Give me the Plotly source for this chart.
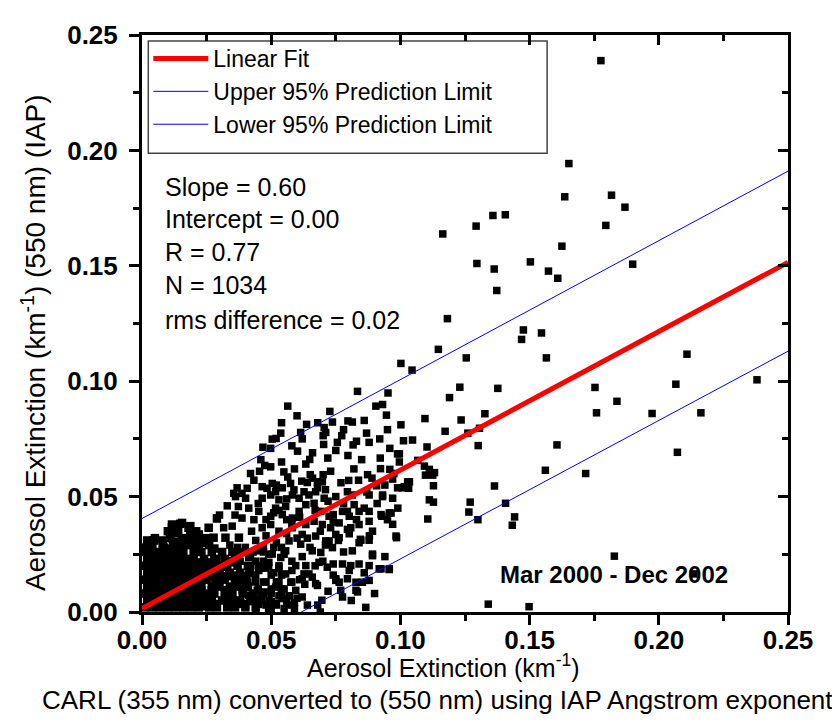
import plotly.graph_objects as go

# ---------------- data ----------------
# sparse / outlying points: CARL extinction (x) and IAP extinction (y), km^-1
sparse_x = [0.1776,0.1652,0.1636,0.1358,0.1406,0.1293,0.1164,0.1817,0.1869,0.1795,
            0.1625,0.1296,0.1363,0.1503,0.1573,0.1609,0.1373,0.1182,0.1476,0.1546,
            0.1469,0.1147,0.1255,0.1565,0.1002,0.1045,0.1230,0.1377,0.1190,0.1753,
            0.1095,0.1235,0.1327,0.1759,0.1899,0.2109,0.2066,0.2380,0.1838,0.1974,
            0.2163,0.1002,0.1173,0.1261,0.1306,0.1012,0.1047,0.1103,0.1301,0.1606,
            0.0996,0.1067,0.1093,0.1112,0.1132,0.1097,0.1125,0.1561,0.1717,0.1035,
            0.1009,0.1032,0.1128,0.1364,0.1112,0.1128,0.1270,0.1407,0.1265,0.1106,
            0.1300,0.1442,0.1433,0.1340,0.1498,0.0985,0.2072,0.1828,0.2134]
sparse_y = [0.2389,0.1943,0.1799,0.1718,0.1721,0.1672,0.1638,0.1806,0.1754,0.1675,
            0.1585,0.1510,0.1486,0.1517,0.1477,0.1446,0.1393,0.1271,0.1222,0.1209,
            0.1181,0.1138,0.1101,0.1101,0.1077,0.1048,0.0974,0.0969,0.0929,0.0973,
            0.0838,0.0832,0.0859,0.0863,0.1507,0.1117,0.0987,0.1006,0.0913,0.0860,
            0.0863,0.0811,0.0783,0.0775,0.0796,0.0742,0.0745,0.0715,0.0721,0.0724,
            0.0685,0.0657,0.0632,0.0618,0.0604,0.0593,0.0593,0.0614,0.0600,0.0564,
            0.0538,0.0536,0.0547,0.0546,0.0486,0.0476,0.0476,0.0471,0.0433,0.0403,
            0.0400,0.0412,0.0376,0.0034,0.0023,0.0322,0.0692,0.0242,0.0165]

# upper part of the main cluster (0.035 < x < 0.10, 0.05 < y < 0.10)
upper_x = [0.0834,0.0952,0.0564,0.0905,0.0931,0.0946,0.0727,0.0737,0.0797,0.0814,
           0.0637,0.0705,0.0537,0.0519,0.0614,0.0701,0.0711,0.0773,0.0869,0.0756,
           0.0879,0.0703,0.0817,0.0498,0.0959,0.0602,0.0797,0.0989,0.0719,0.0649,
           0.0922,0.0996,0.0634,0.0498,0.0923,0.0959,0.0549,0.0651,0.0701,0.0873,
           0.0975,0.0564,0.0618,0.0838,0.0679,0.0698,0.0575,0.0504,0.0640,0.0970,
           0.0989,0.0908,0.0543,0.0588,0.0679,0.0627,0.0517,0.0795,0.0672,0.0931,
           0.0468,0.0504,0.0475,0.0455,0.0433,0.0368,0.0407,0.0465,0.0484,0.0355,
           0.0387,0.1015,0.1028,
           0.0540,0.0590,0.0660,0.0730,0.0770,0.0820,0.0850,0.0890,0.0940,0.0580,
           0.0660,0.0750,0.0830,0.0920,0.0620,0.0680,0.0780,0.0860,0.0950,0.0540,
           0.0600,0.0460,0.0420,0.0520,0.0710,0.0870,0.0800]
upper_y = [0.0956,0.0949,0.0892,0.0892,0.0899,0.0853,0.0869,0.0823,0.0828,0.0823,
           0.0813,0.0799,0.0775,0.0752,0.0778,0.0764,0.0778,0.0764,0.0775,0.0735,
           0.0735,0.0726,0.0724,0.0709,0.0709,0.0697,0.0678,0.0685,0.0667,0.0661,
           0.0667,0.0650,0.0641,0.0629,0.0621,0.0618,0.0607,0.0595,0.0595,0.0595,
           0.0600,0.0585,0.0567,0.0571,0.0564,0.0564,0.0557,0.0557,0.0561,0.0576,
           0.0538,0.0547,0.0538,0.0529,0.0538,0.0521,0.0521,0.0521,0.0521,0.0507,
           0.0714,0.0749,0.0635,0.0610,0.0571,0.0538,0.0536,0.0543,0.0536,0.0514,
           0.0514,0.0543,0.0564,
           0.0650,0.0620,0.0580,0.0610,0.0560,0.0620,0.0660,0.0580,0.0550,0.0720,
           0.0690,0.0700,0.0740,0.0750,0.0750,0.0820,0.0790,0.0830,0.0790,0.0820,
           0.0850,0.0660,0.0600,0.0550,0.0530,0.0520,0.0570]

# lower-middle part of the cluster (0.03 < x < 0.10, 0 < y < 0.05)
middle_x = [0.0362,0.0401,0.0373,0.0413,0.0465,0.0498,0.0530,0.0517,0.0556,0.0582,
            0.0608,0.0646,0.0666,0.0634,0.0705,0.0750,0.0814,0.0879,0.0931,0.0970,
            0.0821,0.0776,0.0840,0.0879,0.0925,0.0964,0.0802,0.0724,0.0692,0.0608,
            0.0582,0.0543,0.0498,0.0452,0.0433,0.0387,0.0349,0.0290,0.0316,0.0258,
            0.0424,0.0465,0.0498,0.0530,0.0582,0.0634,0.0666,0.0698,0.0730,0.0763,
            0.0795,0.0840,0.0879,0.0892,0.0845,0.0802,0.0983,0.0750,0.0711,0.0672,
            0.0620,0.0569,0.0614,0.0659,0.0692,0.0737,0.0814,0.0892,0.0776,0.0808,
            0.0840,0.0879,0.0918,0.0957,0.0717,0.0685,0.0634,0.0595,0.0556,0.0627,
            0.0659,0.0679,0.0750,0.0763,0.0795,0.0828,0.0879,0.0769,0.0828,0.0776,
            0.0866,0.0620,0.0543,0.0595,0.0576,0.0517,0.0478,0.0446,0.0413,0.0452,
            0.0491,0.0517,0.0401,0.0375,0.0349,0.0401,0.0375,0.0336,0.0308,0.0413,
            0.0452,0.0491,0.0504,0.0537,0.0556,0.0452,0.0413,0.0375,0.0349,0.0290,
            0.0271,0.0245,0.0282,0.0232,0.0219,0.0180,0.0323,0.0282,0.0245,0.0957,
            0.0925,0.0696,0.0834,0.0853,0.0892,0.0957,0.0928,0.0879,0.0847,0.0808,
            0.0795,0.0740,0.0763,0.0724,0.0740,0.0802,0.0750,0.0672,0.0646,0.0620,
            0.0360,0.0440,0.0480,0.0520,0.0560,0.0400,0.0470,0.0340,0.0510,0.0560,
            0.0600,0.0350,0.0390,0.0430,0.0470,0.0450,0.0490,0.0530,0.0440,0.0480,
            0.0520,0.0470,0.0500,0.0540,0.0480,0.0520,0.0570,
            0.0500,0.0550,0.0590,0.0360,0.0430,0.0500,0.0560,0.0390,0.0450,0.0500,
            0.0550,0.0370,0.0440,0.0500,0.0540,0.0380,0.0440,0.0470,0.0580,0.0370,
            0.0510,0.0540,0.0640,0.0720,0.0810,0.0670,0.0780,0.0860,0.0940,0.0710,
            0.0620,0.0840,0.0900,0.0580,0.0690,0.0450,0.0560,0.0610,0.0670,0.0720,
            0.0780,0.0860,0.0910,0.0950,0.0880,0.0830,0.0760,0.0690,0.0640,0.0580,
            0.0530,0.0480,0.0990,0.0970,0.0740,
            0.0420,0.0460,0.0530,0.0570,0.0410,0.0470,0.0530,0.0580,0.0420,0.0480,
            0.0530,0.0420,0.0490,0.0550,0.0600,0.0630,0.0680,0.0740,0.0700,0.0650,
            0.0440,0.0490,0.0540,0.0590,0.0460,0.0510,0.0570,0.0610,0.0300,0.0330]
middle_y = [0.0500,0.0493,0.0457,0.0450,0.0493,0.0507,0.0486,0.0450,0.0457,0.0507,
            0.0493,0.0507,0.0471,0.0465,0.0493,0.0500,0.0507,0.0507,0.0500,0.0493,
            0.0465,0.0436,0.0436,0.0436,0.0422,0.0429,0.0415,0.0415,0.0436,0.0436,
            0.0407,0.0422,0.0415,0.0436,0.0400,0.0407,0.0372,0.0407,0.0365,0.0365,
            0.0350,0.0365,0.0379,0.0350,0.0365,0.0379,0.0393,0.0379,0.0365,0.0386,
            0.0358,0.0379,0.0393,0.0350,0.0315,0.0339,0.0329,0.0336,0.0308,0.0329,
            0.0336,0.0308,0.0294,0.0265,0.0258,0.0279,0.0265,0.0251,0.0208,0.0201,
            0.0208,0.0201,0.0187,0.0187,0.0194,0.0215,0.0201,0.0201,0.0165,0.0165,
            0.0151,0.0115,0.0144,0.0129,0.0144,0.0129,0.0137,0.0094,0.0094,0.0065,
            0.0020,0.0065,0.0058,0.0094,0.0129,0.0108,0.0087,0.0094,0.0073,0.0051,
            0.0051,0.0037,0.0030,0.0037,0.0051,0.0108,0.0137,0.0165,0.0194,0.0165,
            0.0180,0.0215,0.0251,0.0236,0.0265,0.0265,0.0236,0.0251,0.0222,0.0229,
            0.0194,0.0165,0.0123,0.0094,0.0051,0.0094,0.0080,0.0037,0.0023,0.0184,
            0.0187,0.0051,0.0087,0.0129,0.0244,0.0429,0.0415,0.0311,0.0311,0.0365,
            0.0436,0.0422,0.0322,0.0308,0.0208,0.0180,0.0137,0.0123,0.0165,0.0144,
            0.0420,0.0310,0.0330,0.0300,0.0340,0.0280,0.0280,0.0290,0.0430,0.0400,
            0.0320,0.0260,0.0260,0.0260,0.0260,0.0200,0.0200,0.0200,0.0130,0.0130,
            0.0130,0.0080,0.0080,0.0080,0.0030,0.0030,0.0030,
            0.0015,0.0015,0.0015,0.0045,0.0045,0.0045,0.0045,0.0100,0.0100,0.0100,
            0.0100,0.0160,0.0160,0.0160,0.0160,0.0220,0.0220,0.0220,0.0220,0.0280,
            0.0280,0.0280,0.0030,0.0090,0.0050,0.0200,0.0260,0.0170,0.0240,0.0290,
            0.0240,0.0300,0.0080,0.0180,0.0000,0.0470,0.0490,0.0410,0.0440,0.0480,
            0.0470,0.0450,0.0470,0.0400,0.0330,0.0400,0.0310,0.0350,0.0320,0.0380,
            0.0440,0.0400,0.0450,0.0380,0.0390,
            0.0070,0.0070,0.0070,0.0070,0.0130,0.0130,0.0130,0.0130,0.0190,0.0190,
            0.0190,0.0250,0.0250,0.0250,0.0060,0.0120,0.0030,0.0160,0.0220,0.0280,
            0.0010,0.0010,0.0100,0.0040,0.0190,0.0170,0.0070,0.0140,0.0420,0.0460]

# densest core near the origin (x < 0.047, y < 0.04)
core_x = [0.001,0.004,0.007,0.010,0.013,0.016,0.019,0.022,0.026,0.029,0.033,0.036,0.040,0.044,
          0.002,0.005,0.008,0.011,0.014,0.017,0.020,0.024,0.027,0.031,0.034,0.038,0.042,0.046,
          0.001,0.004,0.007,0.010,0.013,0.016,0.019,0.022,0.025,0.028,0.032,0.035,0.039,0.043,
          0.002,0.005,0.008,0.011,0.014,0.017,0.020,0.023,0.027,0.030,0.034,0.037,0.041,
          0.001,0.004,0.007,0.010,0.013,0.016,0.019,0.022,0.025,0.029,0.032,0.036,0.040,
          0.002,0.005,0.008,0.011,0.014,0.017,0.020,0.023,0.026,0.030,0.034,0.038,
          0.001,0.004,0.007,0.010,0.013,0.016,0.019,0.022,0.025,0.029,0.033,0.037,0.041,
          0.002,0.005,0.008,0.011,0.014,0.017,0.020,0.024,0.028,0.032,0.036,
          0.001,0.004,0.007,0.010,0.013,0.016,0.020,0.023,0.027,0.031,0.035,
          0.004,0.008,0.012,0.016,0.019,0.022,0.026,
          0.005,0.011,0.016,0.020,0.025,
          0.010,0.014,0.021,
          0.0116,0.0148,0.0180,0.0129,0.0187,0.0219,0.0258,0.0290,0.0045,0.0083,0.0006,
          0.0155,0.0116,0.0135,0.0109,0.0045,0.0083,0.0155,0.0180,0.0219,0.0277,0.0323,0.0375,0.0187,
          0.003,0.009,0.015,0.021,0.027,0.033,0.039,0.045,
          0.003,0.009,0.015,0.021,0.027,0.033,0.039,
          0.003,0.009,0.015,0.021,0.027,0.033,0.040,
          0.003,0.009,0.015,0.021,0.027,0.034,
          0.003,0.009,0.015,0.021,0.028,
          0.002,0.008,0.014,0.018,0.023]
core_y = [0.002,0.002,0.002,0.002,0.002,0.002,0.002,0.002,0.002,0.002,0.002,0.002,0.002,0.002,
          0.005,0.005,0.005,0.005,0.005,0.005,0.005,0.005,0.005,0.005,0.005,0.005,0.005,0.005,
          0.008,0.008,0.008,0.008,0.008,0.008,0.008,0.008,0.008,0.008,0.008,0.008,0.008,0.008,
          0.011,0.011,0.011,0.011,0.011,0.011,0.011,0.011,0.011,0.011,0.011,0.011,0.011,
          0.014,0.014,0.014,0.014,0.014,0.014,0.014,0.014,0.014,0.014,0.014,0.014,0.014,
          0.017,0.017,0.017,0.017,0.017,0.017,0.017,0.017,0.017,0.017,0.017,0.017,
          0.020,0.020,0.020,0.020,0.020,0.020,0.020,0.020,0.020,0.020,0.020,0.020,0.020,
          0.023,0.023,0.023,0.023,0.023,0.023,0.023,0.023,0.023,0.023,0.023,
          0.026,0.026,0.026,0.026,0.026,0.026,0.026,0.026,0.026,0.026,0.026,
          0.029,0.029,0.029,0.029,0.029,0.029,0.029,
          0.032,0.032,0.032,0.032,0.032,
          0.035,0.035,0.035,
          0.0368,0.0382,0.0365,0.0343,0.0343,0.0333,0.0365,0.0405,0.0310,0.0279,0.0279,
          0.0386,0.0379,0.0350,0.0329,0.0311,0.0279,0.0308,0.0294,0.0336,0.0322,0.0322,0.0322,0.0372,
          0.0035,0.0035,0.0035,0.0035,0.0035,0.0035,0.0035,0.0035,
          0.0095,0.0095,0.0095,0.0095,0.0095,0.0095,0.0095,
          0.0155,0.0155,0.0155,0.0155,0.0155,0.0155,0.0155,
          0.0215,0.0215,0.0215,0.0215,0.0215,0.0215,
          0.0275,0.0275,0.0275,0.0275,0.0275,
          0.0310,0.0310,0.0305,0.0310,0.0300]

# regression line and 95 % prediction limits (end points at x = 0 and x = 0.25)
line_x = [0.0, 0.25]
fit_y = [0.0015, 0.1515]
upper_y_lim = [0.0405, 0.1910]
lower_y_lim = [-0.0370, 0.1130]

stats_lines = ["Slope = 0.60", "Intercept = 0.00", "R = 0.77", "N = 1034", "rms difference = 0.02"]
period_label = "Mar 2000 - Dec 2002"

x_ticks = [0.00, 0.05, 0.10, 0.15, 0.20, 0.25]
y_ticks = [0.00, 0.05, 0.10, 0.15, 0.20, 0.25]

# ---------------- figure ----------------
FONT = "Arial, 'Liberation Sans', sans-serif"
OFF = 8                      # default body margin of the html page
W, H = 832, 717
L, T = 141.7 - OFF, 27 - OFF
R = W - (788 - OFF)
B = H - (612 - OFF)
PW, PH = W - L - R, H - T - B


def px(xp):                  # page pixel -> paper x
    return (xp - OFF - L) / PW


def py(yp):                  # page pixel -> paper y
    return (H - B - (yp - OFF)) / PH


outer_x = sparse_x + upper_x + middle_x
outer_y = sparse_y + upper_y + middle_y

fig = go.Figure()
fig.add_trace(go.Scatter(x=core_x, y=core_y, mode="markers", showlegend=False,
                         marker=dict(symbol="square", size=8.5, color="black",
                                     line=dict(width=0))))
fig.add_trace(go.Scatter(x=outer_x, y=outer_y, mode="markers", showlegend=False,
                         marker=dict(symbol="square", size=7.5, color="black",
                                     line=dict(width=0))))
fig.add_trace(go.Scatter(x=line_x, y=fit_y, mode="lines", name="Linear Fit",
                         line=dict(color="#ff0000", width=5)))
fig.add_trace(go.Scatter(x=line_x, y=upper_y_lim, mode="lines",
                         name="Upper 95% Prediction Limit",
                         line=dict(color="#0000ff", width=1)))
fig.add_trace(go.Scatter(x=line_x, y=lower_y_lim, mode="lines",
                         name="Lower 95% Prediction Limit",
                         line=dict(color="#0000ff", width=1)))
# empty trace so that the mirrored (top/right) axes exist
fig.add_trace(go.Scatter(x=[], y=[], xaxis="x2", yaxis="y2", showlegend=False))

axis_common = dict(range=[0, 0.25], showgrid=False, zeroline=False,
                   showline=True, linecolor="black", linewidth=3,
                   tickcolor="black", tickwidth=3)

fig.update_layout(
    width=W, height=H,
    margin=dict(l=L, r=R, t=T, b=B, pad=0),
    paper_bgcolor="white", plot_bgcolor="white",
    font=dict(family=FONT, color="black"),
    xaxis=dict(**axis_common, mirror=True, ticks="outside", ticklen=10,
               tickvals=x_ticks, tickformat=".2f", ticklabelstandoff=-7,
               tickfont=dict(size=26, family=FONT, weight="bold"),
               minor=dict(ticks="outside", ticklen=6, tickwidth=3,
                          tickcolor="black", dtick=0.025)),
    yaxis=dict(**axis_common, mirror=True, ticks="outside", ticklen=10,
               tickvals=y_ticks, tickformat=".2f", ticklabelstandoff=6,
               tickfont=dict(size=26, family=FONT, weight="bold"),
               minor=dict(ticks="outside", ticklen=6, tickwidth=3,
                          tickcolor="black", dtick=0.025)),
    xaxis2=dict(range=[0, 0.25], overlaying="x", side="top", anchor="y2",
                showgrid=False, zeroline=False, showline=False,
                showticklabels=False, ticks="inside", ticklen=10, tickwidth=3,
                tickcolor="black", tickvals=x_ticks,
                minor=dict(ticks="inside", ticklen=6, tickwidth=3,
                           tickcolor="black", dtick=0.025)),
    yaxis2=dict(range=[0, 0.25], overlaying="y", side="right", anchor="x2",
                showgrid=False, zeroline=False, showline=False,
                showticklabels=False, ticks="inside", ticklen=10, tickwidth=3,
                tickcolor="black", tickvals=y_ticks,
                minor=dict(ticks="inside", ticklen=6, tickwidth=3,
                           tickcolor="black", dtick=0.025)),
    legend=dict(x=px(148), y=py(29), xanchor="left", yanchor="top",
                bgcolor="rgba(0,0,0,0)", borderwidth=0,
                font=dict(size=23, family=FONT), itemwidth=55,
                tracegroupgap=0),
    shapes=[dict(type="rect", xref="paper", yref="paper",
                 x0=px(148), x1=px(547), y0=py(147), y1=py(33),
                 line=dict(color="#444444", width=1.5),
                 fillcolor="white", layer="below")],
)

annotations = []
stat_y = [181, 214, 247, 280, 316]
for txt, yp in zip(stats_lines, stat_y):
    annotations.append(dict(x=px(163), y=py(yp), xref="paper", yref="paper",
                            text=txt, showarrow=False, xanchor="left",
                            yanchor="middle", font=dict(size=25, family=FONT)))
annotations.append(dict(x=px(614), y=py(574), xref="paper", yref="paper",
                        text=period_label, showarrow=False,
                        xanchor="center", yanchor="middle",
                        font=dict(size=24, family=FONT, weight="bold")))
annotations.append(dict(x=px(443), y=py(667), xref="paper", yref="paper",
                        text="Aerosol Extinction (km<sup>-1</sup>)", showarrow=False,
                        xanchor="center", yanchor="middle",
                        font=dict(size=25, family=FONT)))
annotations.append(dict(x=px(437), y=py(701), xref="paper", yref="paper",
                        text="CARL (355 nm) converted to (550 nm) using IAP Angstrom exponent",
                        showarrow=False, xanchor="center", yanchor="middle",
                        font=dict(size=26, family=FONT)))
annotations.append(dict(x=px(33), y=py(339), xref="paper", yref="paper",
                        text="Aerosol Extinction (km<sup>-1</sup>) (550 nm) (IAP)",
                        showarrow=False, textangle=-90,
                        xanchor="center", yanchor="middle",
                        font=dict(size=28, family=FONT)))
fig.update_layout(annotations=annotations)

fig.write_html("out.html")
